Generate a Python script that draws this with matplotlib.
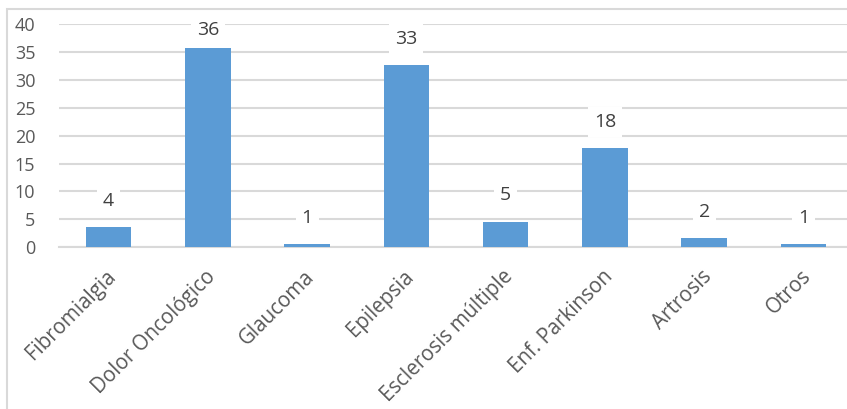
import matplotlib
matplotlib.use("Agg")
import matplotlib.pyplot as plt
from matplotlib.patches import Rectangle
from matplotlib.transforms import ScaledTranslation

categories = ["Fibromialgia", "Dolor Oncológico", "Glaucoma", "Epilepsia",
              "Esclerosis múltiple", "Enf. Parkinson", "Artrosis", "Otros"]
values = [3.6, 35.7, 0.6, 32.6, 4.6, 17.7, 1.7, 0.6]
yticks = [0, 5, 10, 15, 20, 25, 30, 35, 40]

plt.rcParams["font.family"] = ["Open Sans", "DejaVu Sans"]

W, H = 847, 409
fig = plt.figure(figsize=(W / 100, H / 100), dpi=100)

# light frame around the chart area, as in the Excel export
fig.patches.append(Rectangle((7 / W, -0.1), 2, (H - 9) / H + 0.1,
                             transform=fig.transFigure, fill=False,
                             edgecolor="#d9d9d9", linewidth=1.5))

ax = fig.add_axes([59 / W, (H - 247.3) / H, (853 - 59) / W, (247.3 - 24) / H])

x = range(len(categories))
bars = ax.bar(x, values, width=0.46, color="#5b9bd5", zorder=3)

# labels sit ~4.7 units above the bar, but stay inside the chart area
for b, v in zip(bars, values):
    ax.text(b.get_x() + b.get_width() / 2, min(v + 4.7, 38.9), f"{v:.0f}",
            ha="center", va="center", fontsize=14, color="#404040", zorder=4,
            bbox=dict(boxstyle="square,pad=0.3", fc="white", ec="none"))

ax.set_ylim(0, 40)
ax.set_xlim(-0.5, len(categories) - 0.5)
ax.set_yticks(yticks)
ax.yaxis.grid(True, color="#d9d9d9", linewidth=1.5, zorder=0)
for s in ["top", "right", "left"]:
    ax.spines[s].set_visible(False)
ax.spines["bottom"].set_color("#d9d9d9")
ax.spines["bottom"].set_linewidth(1.5)
ax.tick_params(axis="both", length=0, labelsize=13, colors="#595959")
ax.tick_params(axis="y", pad=17)
ax.set_xticks(list(x))
ax.set_xticklabels(categories, rotation=45, ha="right", rotation_mode="anchor",
                   fontsize=14.8)
shift = ScaledTranslation(-3 / 100, -14 / 100, fig.dpi_scale_trans)
for lbl in ax.get_xticklabels():
    lbl.set_transform(lbl.get_transform() + shift)

fig.savefig("out.png", dpi=100)
